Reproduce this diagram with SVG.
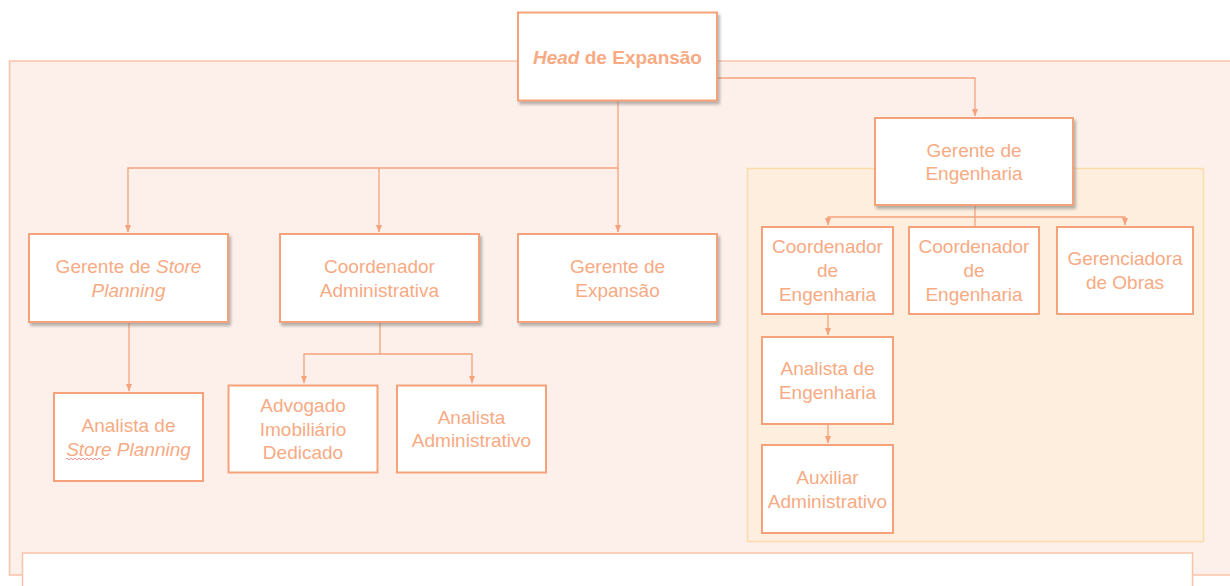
<svg xmlns="http://www.w3.org/2000/svg" width="1230" height="586" viewBox="0 0 1230 586">
<defs>
<filter id="sh" x="-10%" y="-10%" width="125%" height="130%">
<feDropShadow dx="2" dy="3" stdDeviation="1.5" flood-color="#7a7a7a" flood-opacity="0.55"/>
</filter>
<marker id="ar" viewBox="0 0 8 8" refX="7.5" refY="4" markerWidth="8" markerHeight="8" markerUnits="userSpaceOnUse" orient="auto">
<path d="M0,0.8 L8,4 L0,7.2 Z" fill="#F5A37C"/>
</marker>
</defs>
<style>
.box{fill:#ffffff;stroke:#F5A27A;stroke-width:2}
.t{font-family:"Liberation Sans",Arial,sans-serif;font-size:19px;fill:#F8AA83;text-anchor:middle}
.b{font-weight:bold}
.c{fill:none;stroke:#F5A37C;stroke-width:1.3}
</style>
<rect width="1230" height="586" fill="#ffffff"/>
<g id="background">
<rect x="9.5" y="61" width="1240" height="514" fill="#FDF0EA" stroke="#F9C3A9" stroke-width="1.5"/>
<rect x="22.5" y="553" width="1170" height="50" fill="#ffffff" stroke="#F9C3A9" stroke-width="1.5"/>
</g>
<g id="grupo-engenharia">
<rect x="747.5" y="168.5" width="456" height="373" fill="#FDEEDD" stroke="#FCDBAD" stroke-width="1.5"/>
</g>
<g id="connectors">
<path class="c" d="M618,100 V168 H128 V232" marker-end="url(#ar)"/>
<path class="c" d="M379,168 V232" marker-end="url(#ar)"/>
<path class="c" d="M618,168 V232" marker-end="url(#ar)"/>
<path class="c" d="M717,78 H975 V116" marker-end="url(#ar)"/>
<path class="c" d="M129,322 V391" marker-end="url(#ar)"/>
<path class="c" d="M380,322 V354 H304 V383" marker-end="url(#ar)"/>
<path class="c" d="M380,354 H472 V383" marker-end="url(#ar)"/>
<path class="c" d="M975,205 V227" stroke-width="2"/>
<path class="c" d="M975,217 H828 V225" marker-end="url(#ar)"/>
<path class="c" d="M975,217 H1125 V225" marker-end="url(#ar)"/>
<path class="c" d="M828,314 V335" marker-end="url(#ar)"/>
<path class="c" d="M828,424 V443" marker-end="url(#ar)"/>
</g>
<g id="head">
<rect class="box" x="518" y="12.5" width="199" height="88" filter="url(#sh)"/>
<text class="t b" x="617.5" y="64"><tspan font-style="italic">Head</tspan> de Expansão</text>
</g>
<g id="gerente-store-planning">
<rect class="box" x="29" y="234" width="199" height="88" filter="url(#sh)"/>
<text class="t" x="128.5" y="273">Gerente de <tspan font-style="italic">Store</tspan></text>
<text class="t" x="128.5" y="297" font-style="italic">Planning</text>
</g>
<g id="coordenador-administrativa">
<rect class="box" x="280" y="234" width="199" height="88" filter="url(#sh)"/>
<text class="t" x="379.5" y="273">Coordenador</text>
<text class="t" x="379.5" y="297">Administrativa</text>
</g>
<g id="gerente-expansao">
<rect class="box" x="518" y="234" width="199" height="88" filter="url(#sh)"/>
<text class="t" x="617.5" y="273">Gerente de</text>
<text class="t" x="617.5" y="297">Expansão</text>
</g>
<g id="gerente-engenharia">
<rect class="box" x="875" y="118" width="198" height="87" filter="url(#sh)"/>
<text class="t" x="974" y="157">Gerente de</text>
<text class="t" x="974" y="180">Engenharia</text>
</g>
<g id="analista-store-planning">
<rect class="box" x="54" y="393" width="149" height="88"/>
<text class="t" x="128.5" y="432">Analista de</text>
<text class="t" x="128.5" y="456" font-style="italic">Store Planning</text>
<path d="M66,459 q1,-1.5 2,0 t2,0 t2,0 t2,0 t2,0 t2,0 t2,0 t2,0 t2,0 t2,0 t2,0 t2,0 t2,0 t2,0 t2,0 t2,0 t2,0 t2,0 t2,0" fill="none" stroke="#E8707A" stroke-width="0.8"/>
</g>
<g id="advogado">
<rect class="box" x="228.5" y="385.5" width="149" height="87"/>
<text class="t" x="303" y="412">Advogado</text>
<text class="t" x="303" y="436">Imobiliário</text>
<text class="t" x="303" y="459">Dedicado</text>
</g>
<g id="analista-administrativo">
<rect class="box" x="397" y="385.5" width="149" height="87"/>
<text class="t" x="471.5" y="424">Analista</text>
<text class="t" x="471.5" y="447">Administrativo</text>
</g>
<g id="coordenador-engenharia-1">
<rect class="box" x="762" y="227" width="131" height="87"/>
<text class="t" x="827.5" y="253">Coordenador</text>
<text class="t" x="827.5" y="277">de</text>
<text class="t" x="827.5" y="301">Engenharia</text>
</g>
<g id="coordenador-engenharia-2">
<rect class="box" x="909" y="227" width="130" height="87"/>
<text class="t" x="974" y="253">Coordenador</text>
<text class="t" x="974" y="277">de</text>
<text class="t" x="974" y="301">Engenharia</text>
</g>
<g id="gerenciadora-obras">
<rect class="box" x="1057" y="227" width="136" height="87"/>
<text class="t" x="1125" y="265">Gerenciadora</text>
<text class="t" x="1125" y="289">de Obras</text>
</g>
<g id="analista-engenharia">
<rect class="box" x="762" y="337" width="131" height="87"/>
<text class="t" x="827.5" y="375">Analista de</text>
<text class="t" x="827.5" y="399">Engenharia</text>
</g>
<g id="auxiliar-administrativo">
<rect class="box" x="762" y="445" width="131" height="88"/>
<text class="t" x="827.5" y="484">Auxiliar</text>
<text class="t" x="827.5" y="508">Administrativo</text>
</g>
</svg>
